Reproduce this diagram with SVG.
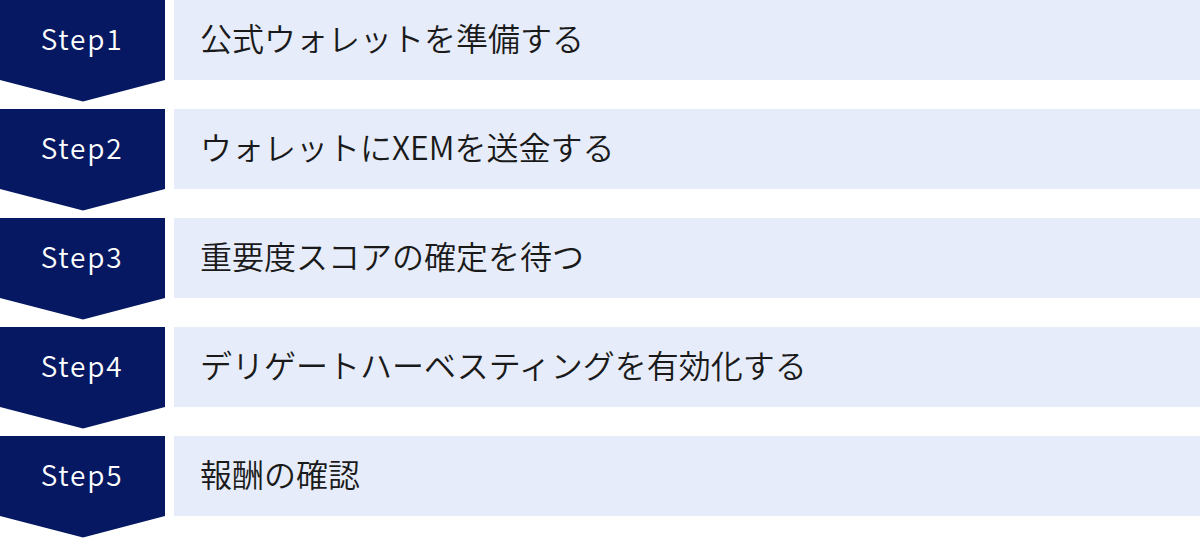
<svg xmlns="http://www.w3.org/2000/svg" width="1200" height="538" viewBox="0 0 1200 538">
<defs>
<style>
.arrow{fill:#051861;}
.box{fill:#e6ecf9;}
.step{font-family:"Noto Sans CJK JP","Noto Sans",sans-serif;font-size:28px;font-weight:350;fill:#ffffff;text-anchor:middle;letter-spacing:1.8px;}
.label{font-family:"Noto Sans CJK JP","Noto Sans",sans-serif;font-size:32px;font-weight:350;fill:#1a1a1a;}
</style>
<path id="chev" class="arrow" d="M0 0 H165 V80 L83 101.5 L0 80 Z"/>
</defs>
<g id="step1">
<use href="#chev"/>
<rect class="box" x="174" y="0" width="1026" height="80"/>
<text class="step" x="82" y="50">Step1</text>
<text class="label" x="200" y="51">公式ウォレットを準備する</text>
</g>
<g id="step2" transform="translate(0,109)">
<use href="#chev"/>
<rect class="box" x="174" y="0" width="1026" height="80"/>
<text class="step" x="82" y="50">Step2</text>
<text class="label" x="200" y="51">ウォレットにXEMを送金する</text>
</g>
<g id="step3" transform="translate(0,218)">
<use href="#chev"/>
<rect class="box" x="174" y="0" width="1026" height="80"/>
<text class="step" x="82" y="50">Step3</text>
<text class="label" x="200" y="51">重要度スコアの確定を待つ</text>
</g>
<g id="step4" transform="translate(0,327)">
<use href="#chev"/>
<rect class="box" x="174" y="0" width="1026" height="80"/>
<text class="step" x="82" y="50">Step4</text>
<text class="label" x="200" y="51">デリゲートハーベスティングを有効化する</text>
</g>
<g id="step5" transform="translate(0,436)">
<use href="#chev"/>
<rect class="box" x="174" y="0" width="1026" height="80"/>
<text class="step" x="82" y="50">Step5</text>
<text class="label" x="200" y="51">報酬の確認</text>
</g>
<g id="connectors"></g>
</svg>
